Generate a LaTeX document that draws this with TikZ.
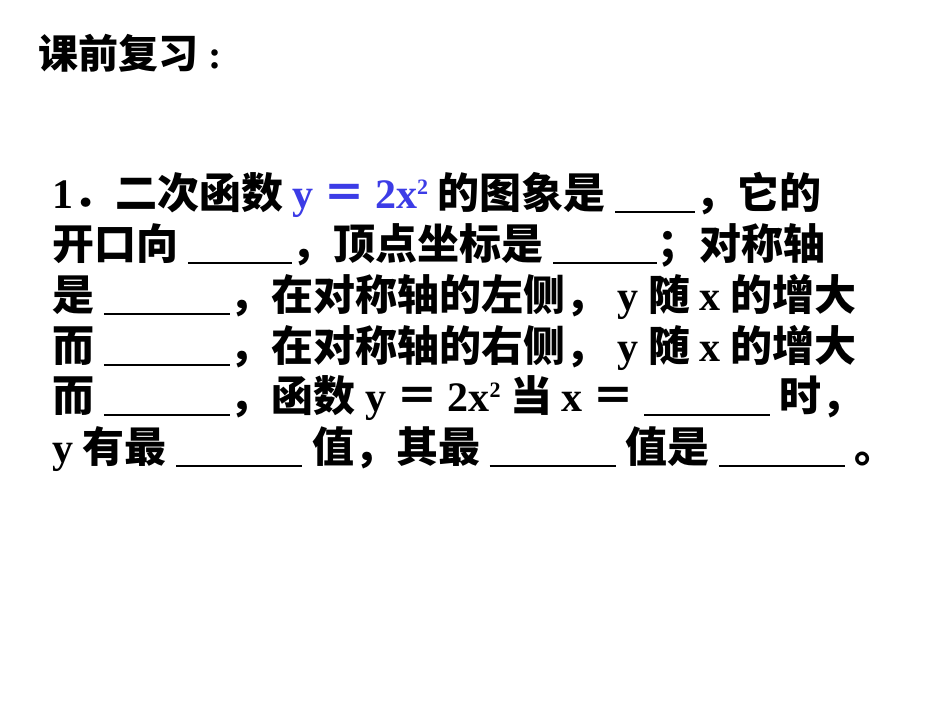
\documentclass[tikz,border=0pt]{standalone}
\usepackage{fontspec}
\setmainfont{Liberation Serif}
\newfontfamily\cjk{Noto Sans CJK SC}
\definecolor{eqblue}{RGB}{60,60,230}
\newcommand{\blk}[1]{\rule[-5pt]{#1pt}{2.5pt}}
\newcommand{\lt}[1]{{\rmfamily\bfseries #1}}
\newcommand{\eq}{{\cjk\bfseries ＝}}
\newcommand{\sq}{\raisebox{14pt}{\fontsize{22}{22}\selectfont\rmfamily\bfseries 2}}
\begin{document}
\begin{tikzpicture}[x=1pt,y=-1pt,
  ln/.style={anchor=base west,inner sep=0pt,font=\fontsize{42}{44}\selectfont\cjk\bfseries}]
\useasboundingbox (0,0) rectangle (950,713);
\node[ln,font=\fontsize{40}{44}\selectfont\cjk\bfseries] (t) at (38,68) {课前复习\lt{ :}};
\node[ln] (l1) at (52,208) {\lt{1}．二次函数 {\color{eqblue}\lt{y} \eq\ \lt{2x}\sq} 的图象是 \blk{80}，它的};
\node[ln] (l2) at (52,259) {开口向 \blk{104}，顶点坐标是 \blk{104}；对称轴};
\node[ln] (l3) at (52,310) {是 \blk{126}，在对称轴的左侧，\ \lt{y} 随 \lt{x} 的增大};
\node[ln] (l4) at (52,361) {而 \blk{126}，在对称轴的右侧，\ \lt{y} 随 \lt{x} 的增大};
\node[ln] (l5) at (52,411) {而 \blk{126}，函数 \lt{y} \eq\ \lt{2x}\sq\ 当 \lt{x} \eq\ \blk{126} 时，};
\node[ln] (l6) at (52,462) {\lt{y} 有最 \blk{126} 值，其最 \blk{126} 值是 \blk{126} 。};
\end{tikzpicture}
\end{document}
